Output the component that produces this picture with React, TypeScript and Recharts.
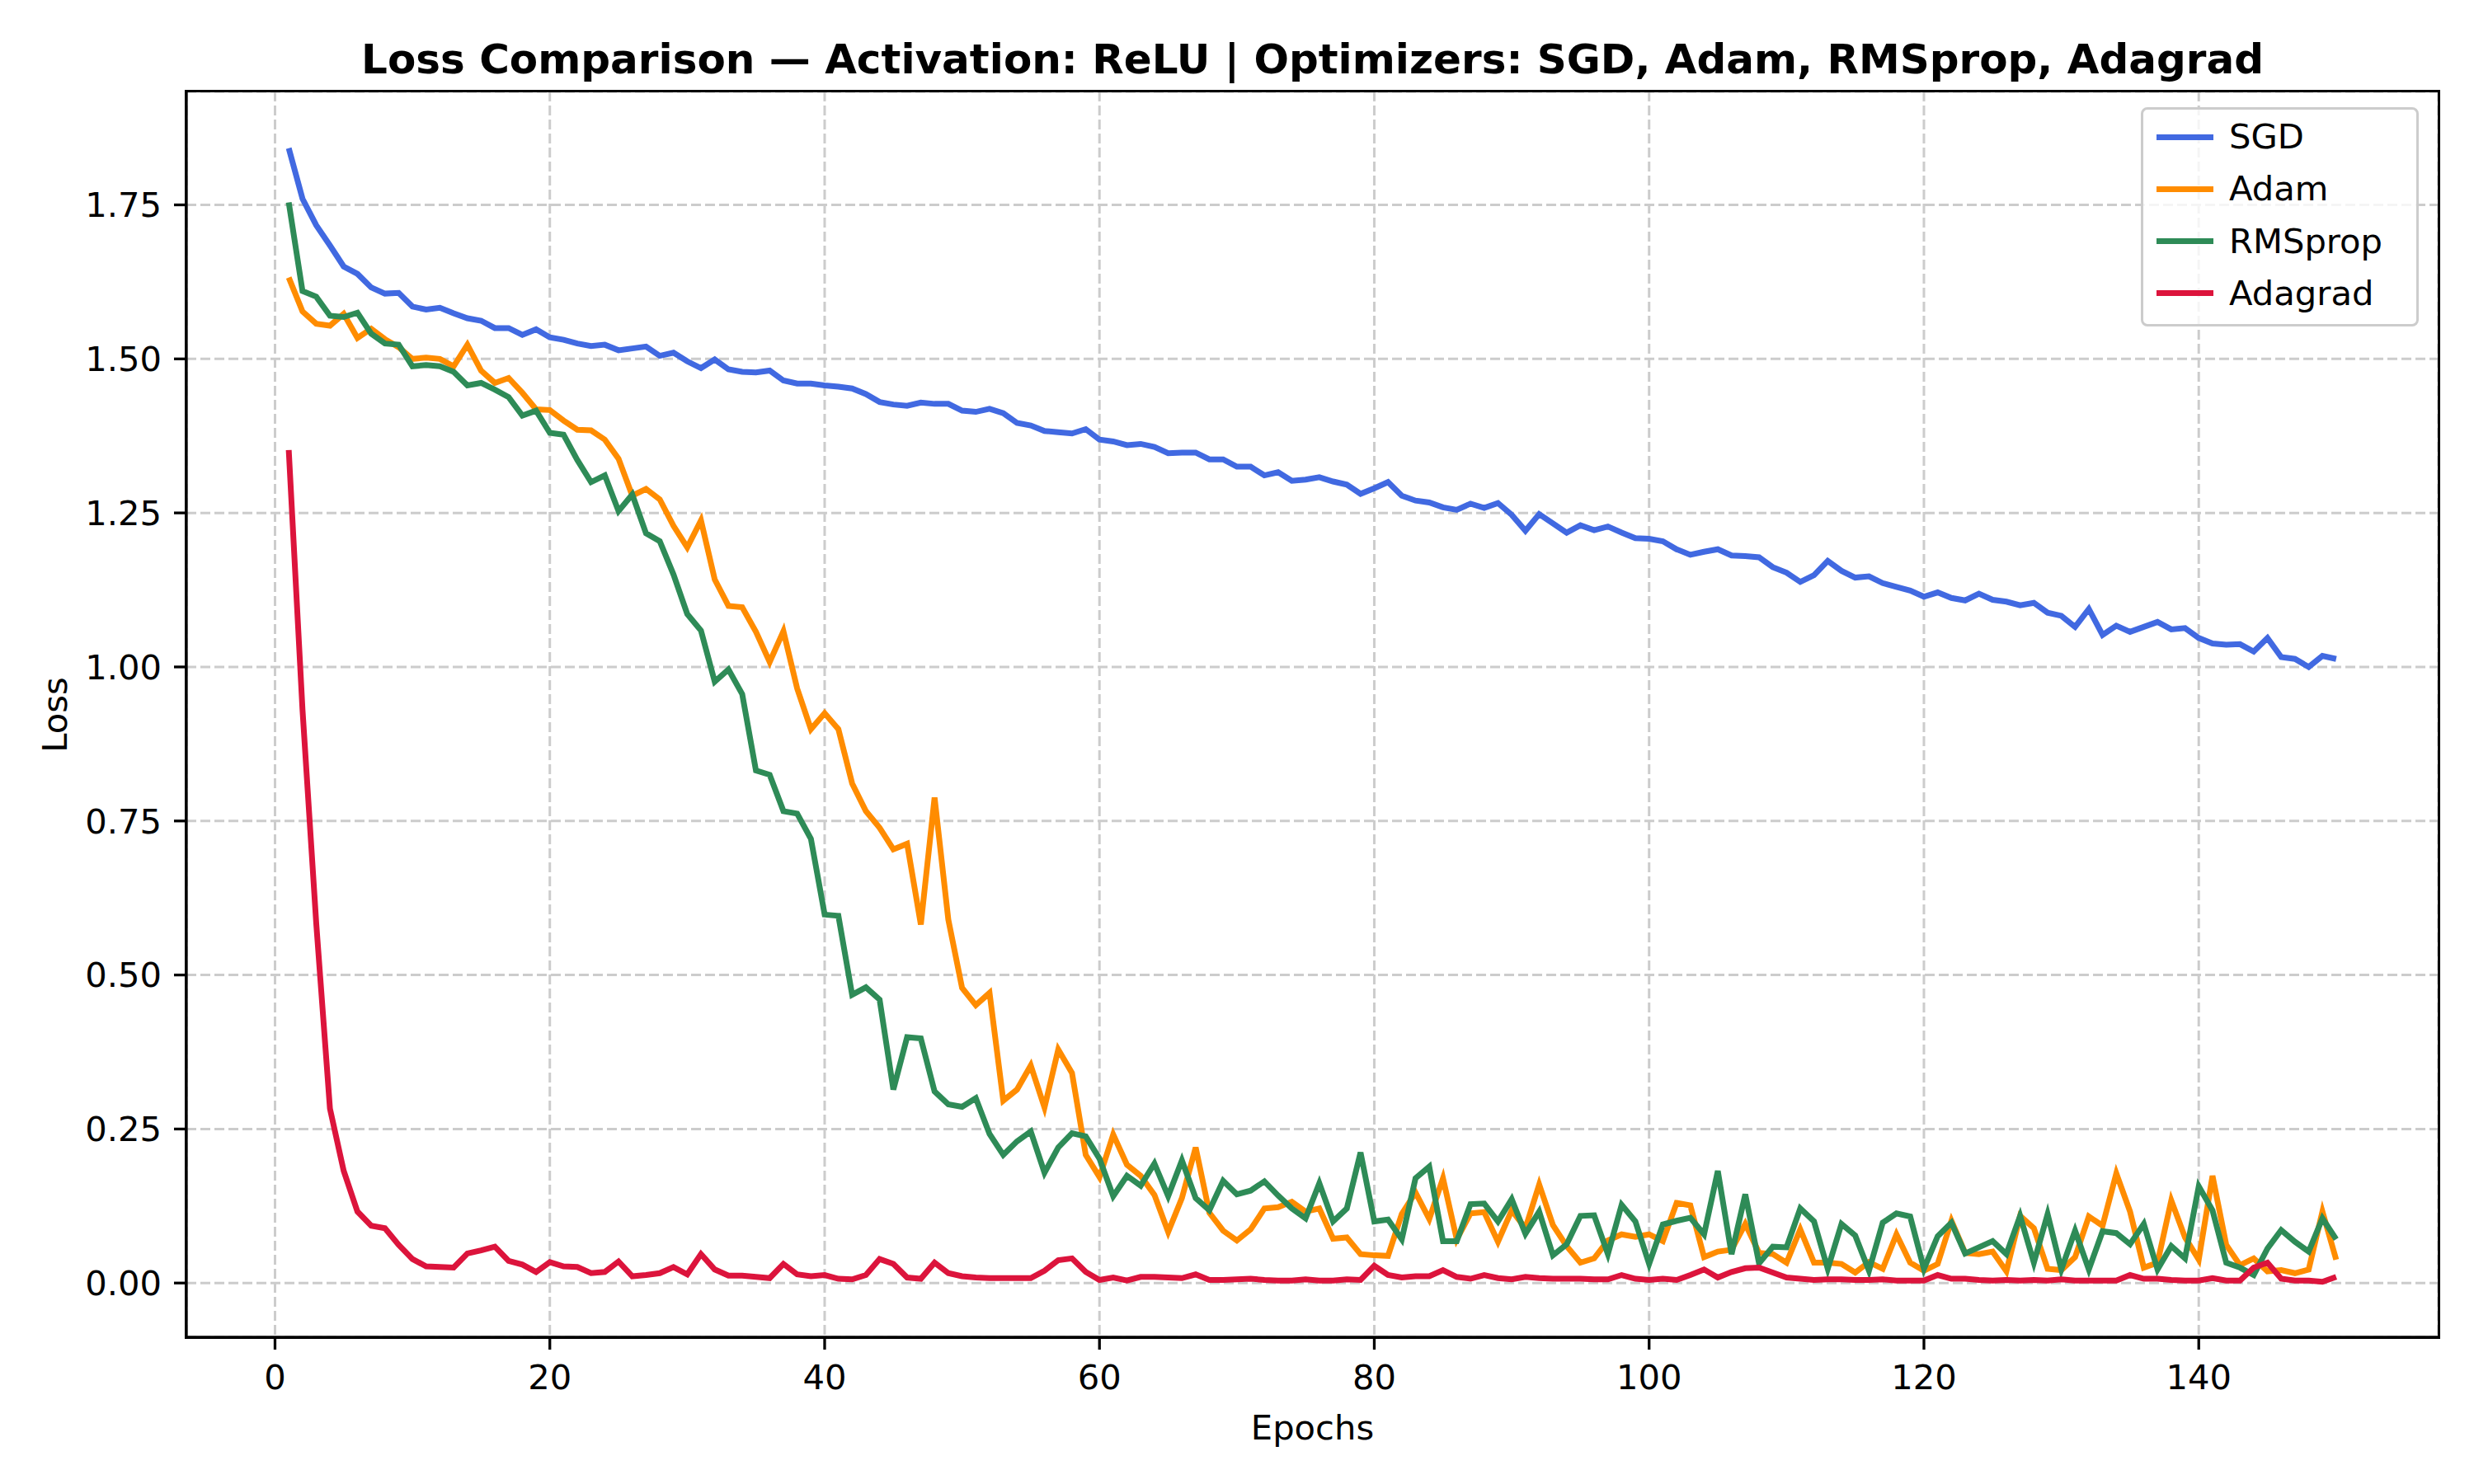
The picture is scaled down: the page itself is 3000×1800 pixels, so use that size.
import React from 'react';
import { LineChart, Line, XAxis, YAxis, CartesianGrid } from 'recharts';

// values, epoch 1..150
const sgd = [
  1.842, 1.760, 1.717, 1.684, 1.650, 1.638, 1.616, 1.606, 1.607, 1.585,
  1.580, 1.583, 1.574, 1.566, 1.562, 1.550, 1.550, 1.539, 1.548, 1.535,
  1.531, 1.525, 1.521, 1.523, 1.514, 1.517, 1.520, 1.505, 1.510, 1.496,
  1.485, 1.499, 1.483, 1.479, 1.478, 1.481, 1.465, 1.460, 1.460, 1.457,
  1.455, 1.452, 1.443, 1.430, 1.426, 1.424, 1.429, 1.427, 1.427, 1.416,
  1.414, 1.419, 1.412, 1.396, 1.392, 1.383, 1.381, 1.379, 1.386, 1.369,
  1.366, 1.360, 1.362, 1.357, 1.347, 1.348, 1.348, 1.337, 1.337, 1.325,
  1.325, 1.311, 1.316, 1.302, 1.304, 1.308, 1.301, 1.296, 1.281, 1.290,
  1.300, 1.278, 1.270, 1.267, 1.259, 1.255, 1.265, 1.258, 1.266, 1.247,
  1.221, 1.248, 1.233, 1.218, 1.230, 1.222, 1.228, 1.218, 1.209, 1.208,
  1.204, 1.191, 1.182, 1.187, 1.191, 1.181, 1.180, 1.178, 1.162, 1.153,
  1.138, 1.149, 1.172, 1.156, 1.145, 1.147, 1.136, 1.130, 1.124, 1.114,
  1.121, 1.112, 1.108, 1.119, 1.109, 1.106, 1.100, 1.104, 1.088, 1.083,
  1.065, 1.094, 1.052, 1.067, 1.057, 1.065, 1.073, 1.061, 1.063, 1.047,
  1.038, 1.036, 1.037, 1.025, 1.047, 1.016, 1.013, 1.000, 1.018, 1.013,
];

const adam = [
  1.632, 1.577, 1.557, 1.554, 1.573, 1.534, 1.549, 1.532, 1.519, 1.500,
  1.502, 1.500, 1.488, 1.523, 1.481, 1.461, 1.469, 1.445, 1.418, 1.417,
  1.400, 1.385, 1.384, 1.369, 1.338, 1.278, 1.289, 1.272, 1.229, 1.194,
  1.238, 1.142, 1.099, 1.097, 1.057, 1.008, 1.058, 0.965, 0.899, 0.925,
  0.899, 0.811, 0.766, 0.739, 0.704, 0.713, 0.582, 0.788, 0.590, 0.479,
  0.451, 0.471, 0.296, 0.314, 0.353, 0.285, 0.379, 0.341, 0.208, 0.172,
  0.241, 0.192, 0.174, 0.143, 0.083, 0.138, 0.220, 0.114, 0.085, 0.069,
  0.087, 0.121, 0.123, 0.132, 0.116, 0.121, 0.072, 0.074, 0.047, 0.045,
  0.044, 0.112, 0.147, 0.104, 0.170, 0.071, 0.113, 0.115, 0.067, 0.118,
  0.089, 0.160, 0.094, 0.060, 0.033, 0.040, 0.069, 0.079, 0.075, 0.079,
  0.068, 0.130, 0.126, 0.042, 0.051, 0.054, 0.096, 0.049, 0.047, 0.033,
  0.087, 0.033, 0.033, 0.031, 0.017, 0.034, 0.023, 0.079, 0.033, 0.020,
  0.031, 0.101, 0.049, 0.047, 0.051, 0.019, 0.109, 0.089, 0.023, 0.021,
  0.042, 0.108, 0.093, 0.178, 0.116, 0.025, 0.033, 0.134, 0.074, 0.038,
  0.174, 0.062, 0.029, 0.040, 0.019, 0.021, 0.016, 0.022, 0.116, 0.038,
];

const rmsprop = [
  1.754, 1.610, 1.601, 1.570, 1.568, 1.575, 1.541, 1.525, 1.523, 1.488,
  1.490, 1.488, 1.479, 1.457, 1.461, 1.450, 1.438, 1.408, 1.416, 1.380,
  1.377, 1.336, 1.300, 1.311, 1.253, 1.280, 1.217, 1.204, 1.150, 1.086,
  1.059, 0.976, 0.996, 0.956, 0.832, 0.825, 0.766, 0.762, 0.721, 0.598,
  0.596, 0.468, 0.480, 0.460, 0.314, 0.399, 0.397, 0.311, 0.290, 0.286,
  0.300, 0.242, 0.208, 0.230, 0.246, 0.179, 0.220, 0.243, 0.238, 0.202,
  0.141, 0.174, 0.158, 0.194, 0.141, 0.199, 0.138, 0.118, 0.166, 0.144,
  0.150, 0.165, 0.142, 0.121, 0.105, 0.162, 0.100, 0.121, 0.212, 0.100,
  0.103, 0.071, 0.170, 0.189, 0.068, 0.068, 0.128, 0.129, 0.100, 0.136,
  0.080, 0.116, 0.045, 0.063, 0.109, 0.110, 0.047, 0.127, 0.100, 0.031,
  0.095, 0.101, 0.106, 0.079, 0.182, 0.047, 0.144, 0.032, 0.059, 0.058,
  0.121, 0.100, 0.023, 0.096, 0.077, 0.020, 0.098, 0.113, 0.108, 0.023,
  0.076, 0.098, 0.048, 0.058, 0.068, 0.047, 0.109, 0.033, 0.112, 0.022,
  0.085, 0.022, 0.084, 0.081, 0.063, 0.096, 0.022, 0.060, 0.040, 0.157,
  0.118, 0.033, 0.025, 0.013, 0.056, 0.086, 0.067, 0.051, 0.105, 0.071,
];

const adagrad = [
  1.352, 0.931, 0.584, 0.283, 0.182, 0.116, 0.093, 0.089, 0.062, 0.039,
  0.027, 0.026, 0.025, 0.048, 0.053, 0.059, 0.036, 0.030, 0.018, 0.034,
  0.027, 0.026, 0.016, 0.018, 0.035, 0.011, 0.013, 0.016, 0.026, 0.014,
  0.047, 0.022, 0.012, 0.012, 0.010, 0.008, 0.031, 0.014, 0.011, 0.013,
  0.007, 0.006, 0.013, 0.039, 0.031, 0.009, 0.007, 0.033, 0.016, 0.011,
  0.009, 0.008, 0.008, 0.008, 0.008, 0.020, 0.037, 0.040, 0.018, 0.005,
  0.009, 0.004, 0.010, 0.010, 0.009, 0.008, 0.014, 0.005, 0.005, 0.006,
  0.007, 0.005, 0.004, 0.004, 0.006, 0.004, 0.004, 0.006, 0.005, 0.028,
  0.013, 0.009, 0.011, 0.011, 0.021, 0.010, 0.007, 0.013, 0.008, 0.006,
  0.010, 0.008, 0.007, 0.007, 0.007, 0.006, 0.006, 0.013, 0.007, 0.005,
  0.007, 0.005, 0.013, 0.022, 0.009, 0.018, 0.024, 0.025, 0.017, 0.009,
  0.007, 0.005, 0.006, 0.006, 0.005, 0.005, 0.006, 0.004, 0.004, 0.004,
  0.013, 0.007, 0.007, 0.005, 0.004, 0.005, 0.004, 0.005, 0.004, 0.006,
  0.004, 0.004, 0.004, 0.004, 0.013, 0.007, 0.007, 0.005, 0.004, 0.004,
  0.008, 0.004, 0.004, 0.025, 0.033, 0.007, 0.004, 0.004, 0.002, 0.010,
];

const xTicks = [0, 20, 40, 60, 80, 100, 120, 140];
const yTicks = [0, 0.25, 0.5, 0.75, 1.0, 1.25, 1.5, 1.75];

const SERIES = [
  { key: 'SGD', values: sgd, color: '#4169E1' },
  { key: 'Adam', values: adam, color: '#FF8C00' },
  { key: 'RMSprop', values: rmsprop, color: '#2E8B57' },
  { key: 'Adagrad', values: adagrad, color: '#DC143C' },
];

const data = sgd.map((_, i) => {
  const row: Record<string, number> = { epoch: i + 1 };
  SERIES.forEach(s => { row[s.key] = s.values[i]; });
  return row;
});

const FONT = '"DejaVu Sans", Verdana, sans-serif';
const W = 3000;
const H = 1800;
// plot box (matplotlib axes) in pixels
const PL = 226, PT = 111, PR = 2957, PB = 1622;
const FS = 41.7;
const LW = 7;

const tickStyle = { fontSize: FS, fill: '#000', fontFamily: FONT };

export default function App() {
  return (
    <div style={{ position: 'relative', width: W, height: H, background: '#fff', fontFamily: FONT }}>
      <style>{'body{margin:0}'}</style>
      <LineChart
        width={W}
        height={H}
        data={data}
        margin={{ top: PT, right: W - PR, bottom: 0, left: 0 }}
      >
        <CartesianGrid stroke="#cccccc" strokeWidth={3} strokeDasharray="12 5" />
        <XAxis
          type="number"
          dataKey="epoch"
          domain={[-6.45, 157.45]}
          ticks={xTicks}
          allowDataOverflow
          height={H - PB}
          tick={tickStyle}
          tickSize={15}
          tickMargin={18}
          axisLine={{ stroke: '#000', strokeWidth: 3.3 }}
          tickLine={{ stroke: '#000', strokeWidth: 3.3 }}
        />
        <YAxis
          type="number"
          domain={[-0.088, 1.934]}
          ticks={yTicks}
          allowDataOverflow
          width={PL}
          tick={tickStyle}
          tickSize={15}
          tickMargin={15}
          tickFormatter={(v: number) => v.toFixed(2)}
          axisLine={{ stroke: '#000', strokeWidth: 3.3 }}
          tickLine={{ stroke: '#000', strokeWidth: 3.3 }}
        />
        {SERIES.map(s => (
          <Line
            key={s.key}
            type="linear"
            dataKey={s.key}
            stroke={s.color}
            strokeWidth={LW}
            dot={false}
            isAnimationActive={false}
          />
        ))}
      </LineChart>

      {/* axes frame (top + right spines) */}
      <div style={{
        position: 'absolute', left: PL - 1.65, top: PT - 1.65,
        width: PR - PL + 3.3, height: PB - PT + 3.3,
        border: '3.3px solid #000', boxSizing: 'border-box', pointerEvents: 'none',
      }} />

      {/* title */}
      <div style={{
        position: 'absolute', left: (PL + PR) / 2, top: 47, transform: 'translateX(-50%)',
        fontSize: 50, fontWeight: 'bold', lineHeight: 1, whiteSpace: 'nowrap', color: '#000',
      }}>
        Loss Comparison — Activation: ReLU | Optimizers: SGD, Adam, RMSprop, Adagrad
      </div>

      {/* axis labels */}
      <div style={{
        position: 'absolute', left: (PL + PR) / 2, top: 1711, transform: 'translateX(-50%)',
        fontSize: FS, lineHeight: 1, whiteSpace: 'nowrap', color: '#000',
      }}>
        Epochs
      </div>
      <div style={{
        position: 'absolute', left: 67, top: (PT + PB) / 2,
        transform: 'translate(-50%, -50%) rotate(-90deg)',
        fontSize: FS, lineHeight: 1, whiteSpace: 'nowrap', color: '#000',
      }}>
        Loss
      </div>

      {/* legend */}
      <div style={{
        position: 'absolute', left: 2596, top: 130, width: 337, height: 266,
        border: '3px solid #cccccc', borderRadius: 8, background: 'rgba(255,255,255,0.8)',
        boxSizing: 'border-box',
      }}>
        {SERIES.map((s, i) => (
          <div key={s.key} style={{ position: 'absolute', left: 0, top: 33 + i * 63.3, height: 0 }}>
            <div style={{
              position: 'absolute', left: 16, top: -LW / 2, width: 69, height: LW, background: s.color,
            }} />
            <div style={{
              position: 'absolute', left: 104, top: -FS * 0.5, fontSize: FS, lineHeight: 1,
              whiteSpace: 'nowrap', color: '#000',
            }}>
              {s.key}
            </div>
          </div>
        ))}
      </div>
    </div>
  );
}
